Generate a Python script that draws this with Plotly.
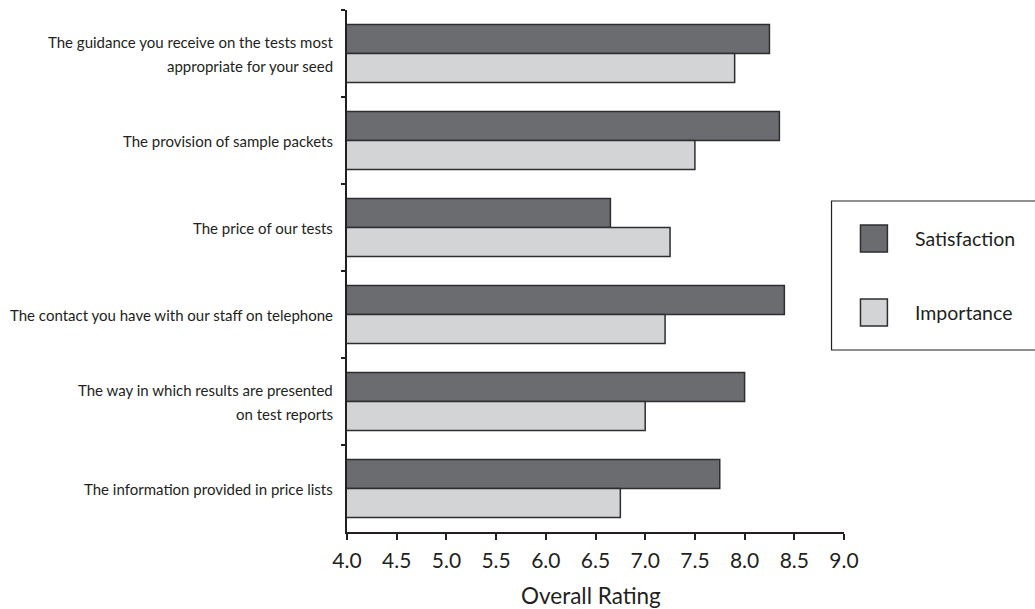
import plotly.graph_objects as go

categories = [
    "The guidance you receive on the tests most|appropriate for your seed",
    "The provision of sample packets",
    "The price of our tests",
    "The contact you have with our staff on telephone",
    "The way in which results are presented|on test reports",
    "The information provided in price lists",
]
satisfaction = [8.25, 8.35, 6.65, 8.4, 8.0, 7.75]
importance = [7.9, 7.5, 7.25, 7.2, 7.0, 6.75]
x_ticks = [4.0, 4.5, 5.0, 5.5, 6.0, 6.5, 7.0, 7.5, 8.0, 8.5, 9.0]
series_names = ["Satisfaction", "Importance"]

DARK = "#6b6c70"
LIGHT = "#d3d4d6"
EDGE = "#2e2e30"
TXT = "#231f20"
FONT = "Lato"

W, H = 1035, 609
L, R, T, B = 346.5, 1035 - 844.5, 10, 609 - 532
pw, ph = W - L - R, H - T - B

def px(xp):
    return (xp - L) / pw

def py(yp):
    return (H - B - yp) / ph

fig = go.Figure()
fig.add_trace(go.Bar(
    y=categories, x=satisfaction, name=series_names[0], orientation="h",
    marker=dict(color=DARK, line=dict(color=EDGE, width=1.5)),
))
fig.add_trace(go.Bar(
    y=categories, x=importance, name=series_names[1], orientation="h",
    marker=dict(color=LIGHT, line=dict(color=EDGE, width=1.5)),
))

annotations = []
for c in categories:
    lines = c.split("|")
    n = len(lines)
    for i, ln in enumerate(lines):
        shift = (((n - 1) / 2) - i) * 24
        annotations.append(dict(
            x=px(334), xref="paper", y=c, yref="y", text=ln, showarrow=False,
            xanchor="right", yanchor="middle", yshift=shift,
            font=dict(family=FONT, size=15, color=TXT),
        ))

annotations.append(dict(
    x=px(591), xref="paper", y=py(595), yref="paper", text="Overall Rating",
    showarrow=False, xanchor="center", yanchor="middle",
    font=dict(family=FONT, size=22.5, color=TXT),
))

shapes = [
    dict(type="rect", xref="paper", yref="paper", x0=px(832), x1=px(1045),
         y0=py(350), y1=py(201), line=dict(color=TXT, width=1.2),
         fillcolor="rgba(0,0,0,0)"),
    dict(type="rect", xref="paper", yref="paper", x0=px(861), x1=px(888),
         y0=py(252), y1=py(225), line=dict(color=EDGE, width=1.5), fillcolor=DARK),
    dict(type="rect", xref="paper", yref="paper", x0=px(861), x1=px(888),
         y0=py(326), y1=py(299), line=dict(color=EDGE, width=1.5), fillcolor=LIGHT),
]
for name, yy in zip(series_names, [238.5, 312.5]):
    annotations.append(dict(
        x=px(914), xref="paper", y=py(yy), yref="paper", text=name,
        showarrow=False, xanchor="left", yanchor="middle",
        font=dict(family=FONT, size=19.5, color=TXT),
    ))

fig.update_layout(
    width=W, height=H,
    margin=dict(l=L, r=R, t=T, b=B, pad=0),
    paper_bgcolor="white", plot_bgcolor="white",
    barmode="group", bargap=0.333, bargroupgap=0,
    showlegend=False,
    annotations=annotations, shapes=shapes,
    font=dict(family=FONT, color=TXT),
)
fig.update_xaxes(
    range=[4, 9], tickvals=x_ticks, ticktext=[f"{v:.1f}" for v in x_ticks],
    showgrid=False, zeroline=False, showline=True, linecolor=TXT, linewidth=2,
    ticks="outside", ticklen=6, tickwidth=1.5, tickcolor=TXT,
    ticklabelstandoff=3,
    tickfont=dict(family=FONT, size=21, color=TXT),
)
fig.update_yaxes(
    range=[5.5, -0.5], type="category", showticklabels=False,
    showgrid=False, zeroline=False, showline=True, linecolor=TXT, linewidth=2,
    ticks="outside", ticklen=4, tickwidth=1.5, tickcolor=TXT,
    tickson="boundaries",
)

fig.write_html("out.html")
